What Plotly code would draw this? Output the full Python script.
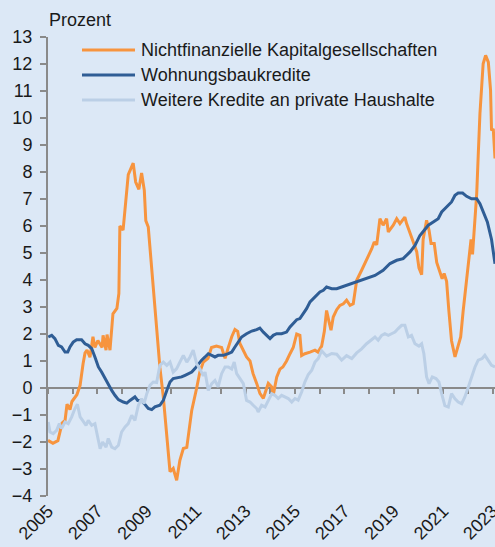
import plotly.graph_objects as go

# ---------------- data ----------------
t_nfc = [2005.00, 2005.20, 2005.40, 2005.57, 2005.69, 2005.77, 2005.89, 2005.97, 2006.17, 2006.30,
         2006.42, 2006.50, 2006.58, 2006.70, 2006.82, 2006.90, 2007.02, 2007.19, 2007.23, 2007.35,
         2007.39, 2007.51, 2007.63, 2007.79, 2007.87, 2007.91, 2008.04, 2008.12, 2008.20, 2008.25,
         2008.45, 2008.55, 2008.68, 2008.79, 2008.90, 2008.96, 2009.06, 2009.17, 2009.33, 2009.47,
         2009.53, 2009.67, 2009.81, 2009.94, 2010.07, 2010.21, 2010.34, 2010.48, 2010.62, 2010.82,
         2011.02, 2011.15, 2011.29, 2011.48, 2011.62, 2011.82, 2012.03, 2012.17, 2012.29, 2012.44,
         2012.57, 2012.68, 2012.77, 2013.04, 2013.18, 2013.30, 2013.45, 2013.58, 2013.72, 2013.92,
         2014.06, 2014.12, 2014.26, 2014.39, 2014.51, 2014.66, 2014.80, 2014.93, 2015.07, 2015.20,
         2015.27, 2015.40, 2015.61, 2015.81, 2015.93, 2016.08, 2016.19, 2016.28, 2016.38, 2016.46,
         2016.55, 2016.69, 2016.82, 2016.96, 2017.09, 2017.23, 2017.36, 2017.50, 2017.70, 2017.90,
         2018.11, 2018.21, 2018.31, 2018.44, 2018.57, 2018.71, 2018.78, 2018.98, 2019.12, 2019.25,
         2019.45, 2019.52, 2019.66, 2019.79, 2019.93, 2020.02, 2020.13, 2020.19, 2020.33, 2020.43,
         2020.51, 2020.64, 2020.74, 2020.87, 2020.96, 2021.04, 2021.14, 2021.23, 2021.34, 2021.48,
         2021.61, 2021.71, 2021.81, 2021.95, 2022.04, 2022.13, 2022.19, 2022.29, 2022.36, 2022.42,
         2022.49, 2022.62, 2022.72, 2022.83, 2022.92, 2022.96, 2023.03, 2023.10]
v_nfc = [-1.94, -2.05, -1.95, -1.30, -1.20, -0.60, -0.80, -0.50, -0.25, 0.10,
         0.90, 1.30, 1.40, 1.14, 1.90, 1.50, 1.76, 1.50, 1.95, 1.40,
         1.98, 1.40, 2.75, 2.95, 3.50, 6.00, 5.85, 6.70, 7.60, 7.90,
         8.33, 7.63, 7.36, 7.96, 7.32, 6.20, 5.96, 4.73, 2.88, 1.65,
         0.77, -0.34, -1.68, -3.10, -2.98, -3.42, -2.68, -2.24, -2.20, -0.83,
         0.00, 0.60, 0.96, 1.10, 1.50, 1.55, 1.50, 1.10, 1.47, 1.90,
         2.17, 2.10, 1.65, 1.15, 1.00, 0.54, 0.17, -0.20, -0.38, 0.17,
         0.04, -0.27, 0.40, 0.70, 0.78, 1.00, 1.27, 1.50, 2.00, 1.95,
         1.20, 1.27, 1.33, 1.40, 1.33, 1.55, 2.10, 2.87, 2.45, 2.14,
         2.63, 2.90, 3.06, 3.12, 3.25, 3.06, 3.12, 3.99, 4.36, 4.73,
         5.16, 5.41, 5.30, 6.27, 6.03, 6.27, 5.78, 6.03, 6.27, 6.09,
         6.33, 6.09, 5.70, 5.41, 5.05, 4.45, 4.20, 5.50, 6.21, 5.84,
         5.35, 5.35, 4.65, 4.30, 4.05, 4.24, 3.95, 2.88, 1.75, 1.15,
         1.55, 1.89, 2.85, 4.10, 4.85, 5.50, 4.95, 6.30, 7.20, 8.60,
         10.16, 12.01, 12.32, 12.07, 11.03, 9.54, 9.60, 8.50]

t_wbk = [2005.01, 2005.15, 2005.28, 2005.42, 2005.55, 2005.69, 2005.80, 2005.89, 2006.02, 2006.16,
         2006.36, 2006.50, 2006.63, 2006.77, 2006.90, 2007.04, 2007.17, 2007.31, 2007.44, 2007.58,
         2007.71, 2007.85, 2008.05, 2008.19, 2008.32, 2008.41, 2008.52, 2008.63, 2008.77, 2008.90,
         2009.06, 2009.20, 2009.33, 2009.53, 2009.67, 2009.81, 2009.94, 2010.07, 2010.21, 2010.41,
         2010.55, 2010.68, 2010.82, 2010.95, 2011.09, 2011.22, 2011.36, 2011.49, 2011.63, 2011.76,
         2011.89, 2012.10, 2012.30, 2012.44, 2012.57, 2012.70, 2012.84, 2013.04, 2013.25, 2013.45,
         2013.58, 2013.72, 2013.85, 2013.99, 2014.12, 2014.26, 2014.46, 2014.66, 2014.80, 2014.93,
         2015.07, 2015.20, 2015.34, 2015.47, 2015.61, 2015.74, 2015.88, 2016.01, 2016.15, 2016.28,
         2016.49, 2016.69, 2016.89, 2017.09, 2017.30, 2017.50, 2017.83, 2018.24, 2018.57, 2018.85,
         2019.12, 2019.38, 2019.66, 2019.86, 2020.06, 2020.26, 2020.40, 2020.60, 2020.80, 2020.94,
         2021.14, 2021.34, 2021.48, 2021.61, 2021.79, 2021.95, 2022.15, 2022.36, 2022.49, 2022.62,
         2022.79, 2022.96, 2023.10]
v_wbk = [1.89, 1.95, 1.83, 1.58, 1.52, 1.33, 1.33, 1.52, 1.70, 1.79,
         1.79, 1.64, 1.58, 1.46, 1.15, 0.78, 0.59, 0.35, 0.10, -0.09,
         -0.27, -0.43, -0.52, -0.56, -0.46, -0.40, -0.33, -0.46, -0.46, -0.58,
         -0.76, -0.80, -0.70, -0.64, -0.46, -0.09, 0.22, 0.35, 0.38, 0.41,
         0.47, 0.53, 0.59, 0.72, 0.90, 1.03, 1.15, 1.27, 1.21, 1.15,
         1.21, 1.21, 1.27, 1.33, 1.52, 1.70, 1.89, 2.01, 2.11, 2.16,
         2.22, 2.07, 1.95, 1.83, 1.95, 2.01, 2.01, 2.07, 2.26, 2.38,
         2.53, 2.57, 2.76, 2.94, 3.19, 3.31, 3.43, 3.56, 3.62, 3.74,
         3.68, 3.68, 3.74, 3.80, 3.87, 3.93, 4.05, 4.17, 4.36, 4.61,
         4.73, 4.79, 5.04, 5.28, 5.65, 5.90, 6.03, 6.15, 6.27, 6.52,
         6.70, 6.89, 7.14, 7.22, 7.22, 7.10, 7.01, 7.01, 6.83, 6.52,
         6.15, 5.50, 4.60]

t_wkh = [2005.01, 2005.08, 2005.21, 2005.35, 2005.46, 2005.55, 2005.69, 2005.82, 2005.96, 2006.09,
         2006.19, 2006.30, 2006.40, 2006.54, 2006.63, 2006.77, 2006.90, 2007.00, 2007.11, 2007.21,
         2007.35, 2007.44, 2007.58, 2007.71, 2007.85, 2007.98, 2008.12, 2008.25, 2008.39, 2008.52,
         2008.66, 2008.79, 2008.89, 2009.00, 2009.13, 2009.26, 2009.40, 2009.53, 2009.67, 2009.81,
         2009.94, 2010.07, 2010.21, 2010.34, 2010.48, 2010.62, 2010.75, 2010.88, 2011.02, 2011.15,
         2011.29, 2011.36, 2011.49, 2011.63, 2011.76, 2011.89, 2012.03, 2012.17, 2012.30, 2012.44,
         2012.54, 2012.64, 2012.77, 2012.91, 2013.04, 2013.18, 2013.31, 2013.45, 2013.51, 2013.65,
         2013.79, 2013.92, 2014.06, 2014.19, 2014.32, 2014.46, 2014.60, 2014.73, 2014.87, 2015.00,
         2015.13, 2015.27, 2015.40, 2015.54, 2015.68, 2015.81, 2015.94, 2016.08, 2016.28, 2016.49,
         2016.69, 2016.89, 2017.09, 2017.30, 2017.50, 2017.70, 2017.90, 2018.11, 2018.24, 2018.37,
         2018.51, 2018.64, 2018.78, 2018.91, 2019.05, 2019.18, 2019.32, 2019.45, 2019.59, 2019.72,
         2019.86, 2020.02, 2020.13, 2020.22, 2020.33, 2020.43, 2020.56, 2020.71, 2020.83, 2020.94,
         2021.07, 2021.21, 2021.34, 2021.48, 2021.61, 2021.75, 2021.88, 2022.02, 2022.15, 2022.29,
         2022.42, 2022.58, 2022.69, 2022.83, 2022.96, 2023.10]
v_wkh = [-1.26, -1.63, -1.69, -1.57, -1.32, -1.50, -1.26, -1.32, -1.07, -0.76,
         -0.60, -1.07, -1.20, -1.38, -1.20, -1.38, -1.32, -1.81, -2.25, -2.00,
         -2.19, -1.87, -2.19, -2.25, -2.12, -1.63, -1.44, -1.32, -1.01, -1.20,
         -0.64, -0.39, -0.58, -0.21, 0.10, 0.22, 0.20, 0.84, 0.96, 0.84,
         0.96, 0.59, 0.72, 0.96, 1.21, 0.96, 1.15, 1.40, 0.90, 0.70,
         0.45, 0.59, -0.09, 0.16, 0.28, 0.04, 0.53, 0.78, 0.78, 0.70,
         0.96, 0.53, 0.35, 0.16, -0.46, -0.52, -0.64, -0.76, -0.89, -0.64,
         -0.70, -0.46, -0.21, -0.27, -0.39, -0.27, -0.33, -0.39, -0.52, -0.39,
         -0.45, -0.15, 0.22, 0.50, 0.66, 0.96, 1.09, 1.38, 1.18, 1.28,
         1.25, 1.03, 1.20, 1.09, 1.30, 1.45, 1.64, 1.80, 1.89, 1.77,
         1.95, 2.01, 1.95, 2.01, 2.07, 2.20, 2.32, 2.32, 1.89, 1.95,
         1.64, 1.55, 1.64, 1.27, 0.41, 0.16, 0.41, 0.35, 0.22, -0.21,
         -0.65, -0.70, -0.21, -0.40, -0.52, -0.58, -0.33, 0.04, 0.41, 0.78,
         1.03, 1.09, 1.21, 1.03, 0.84, 0.78]

series_names = ["Nichtfinanzielle Kapitalgesellschaften", "Wohnungsbaukredite",
                "Weitere Kredite an private Haushalte"]
label_years = list(range(2005, 2024, 2))
tick_years = list(range(2005, 2024))
y_ticks = list(range(-4, 14))

# ---------------- styling ----------------
BG = "rgb(220,232,246)"
AX = "#8a8a8a"
TXT = "#1a1a1a"
FONT = "Liberation Sans, Arial, sans-serif"
colors = ["rgb(247,148,62)", "rgb(47,93,149)", "rgb(187,207,230)"]
W, H = 495, 547
ML, MR, MT, MB = 48, 0, 37, 51
X_RANGE = [2005, 2023.1]
Y_RANGE = [-4, 13]

fig = go.Figure()
# dummy trace so the bottom label axis exists
fig.add_trace(go.Scatter(x=[None], y=[None], xaxis="x", yaxis="y", showlegend=False, hoverinfo="skip"))

data = [(t_nfc, v_nfc), (t_wbk, v_wbk), (t_wkh, v_wkh)]
for (t, v), c, n in zip(data, colors, series_names):
    fig.add_trace(go.Scatter(x=t, y=v, mode="lines", name=n, xaxis="x2", yaxis="y",
                             line=dict(color=c, width=3), showlegend=False))

pw = W - ML - MR
ph = H - MT - MB

def px_x(p):
    return (p - ML) / pw

def px_y(p):
    return 1 - (p - MT) / ph

shapes = []
annotations = []
rows = [50, 75, 100]
for c, n, r in zip(colors, series_names, rows):
    shapes.append(dict(type="line", xref="paper", yref="paper",
                       x0=px_x(82), x1=px_x(135), y0=px_y(r), y1=px_y(r),
                       line=dict(color=c, width=3)))
    annotations.append(dict(text=n, xref="paper", yref="paper", x=px_x(139), y=px_y(r),
                            xanchor="left", yanchor="middle", showarrow=False,
                            font=dict(size=18, color=TXT, family=FONT)))
annotations.append(dict(text="Prozent", xref="paper", yref="paper", x=px_x(47), y=px_y(20),
                        xanchor="left", yanchor="middle", showarrow=False,
                        font=dict(size=18, color=TXT, family=FONT)))

zero_pos = (0 - Y_RANGE[0]) / (Y_RANGE[1] - Y_RANGE[0])

fig.update_layout(
    width=W, height=H,
    margin=dict(l=ML, r=MR, t=MT, b=MB, pad=0, autoexpand=False),
    paper_bgcolor=BG, plot_bgcolor=BG,
    font=dict(family=FONT, size=18, color=TXT),
    showlegend=False,
    shapes=shapes, annotations=annotations,
    xaxis=dict(range=X_RANGE, tickmode="array", tickvals=label_years,
               ticktext=[str(y) for y in label_years], tickangle=-45,
               showline=False, ticks="", showgrid=False, zeroline=False,
               ticklabeloverflow="allow", automargin=False,
               tickfont=dict(size=18, color=TXT, family=FONT)),
    xaxis2=dict(range=X_RANGE, overlaying="x", anchor="free", position=zero_pos,
                tickmode="array", tickvals=tick_years, ticks="outside", ticklen=5,
                tickwidth=2, tickcolor=AX, showline=True, linecolor=AX, linewidth=2,
                showticklabels=False, showgrid=False, zeroline=False, layer="below traces",
                automargin=False),
    yaxis=dict(range=Y_RANGE, tickmode="array", tickvals=y_ticks, ticks="outside",
               ticklen=6, tickwidth=2, tickcolor=AX, showline=True, linecolor=AX,
               linewidth=2, showgrid=False, zeroline=False, layer="below traces",
               ticklabelstandoff=4, automargin=False,
               tickfont=dict(size=18, color=TXT, family=FONT)),
)

fig.write_html("out.html", config={"displayModeBar": False},
               post_script="document.body.style.margin='0px';document.body.style.overflow='hidden';")
